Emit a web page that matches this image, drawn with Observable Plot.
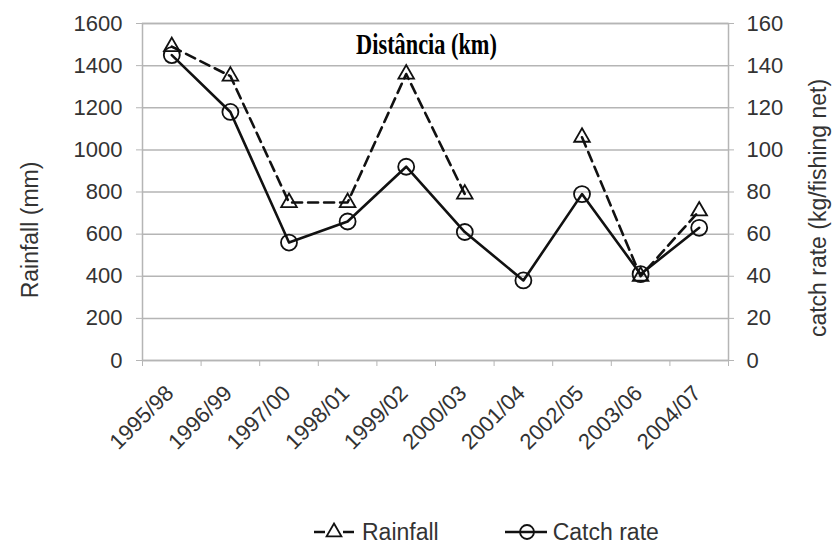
<!DOCTYPE html>
<html><head><meta charset="utf-8">
<script src="https://cdn.jsdelivr.net/npm/d3@7"></script>
<script src="https://cdn.jsdelivr.net/npm/@observablehq/plot@0.6"></script>
<style>
body{margin:0;background:#fff;font-family:"Liberation Sans",Arial,sans-serif;}
#legend{display:flex;align-items:center;height:34px;padding-left:312px;font-size:23px;color:#333;}
#legend .item{display:flex;align-items:center;margin-right:64px;}
#legend svg{margin-right:6px;}
</style></head><body><div id="chart"></div><div id="legend"></div>
<script>
const categories = ["1995/98","1996/99","1997/00","1998/01","1999/02","2000/03","2001/04","2002/05","2003/06","2004/07"];
const rainfall = [1490,1350,750,750,1360,790,null,1060,400,710];
const catchRate = [145,118,56,66,92,61,38,79,41,63];
const leftTicks = [0,200,400,600,800,1000,1200,1400,1600];
const rightTicks = [0,20,40,60,80,100,120,140,160];
const seriesNames = ["Rainfall","Catch rate"];
const titleText = "Distância (km)";
const yLabels = ["Rainfall (mm)","catch rate (kg/fishing net)"];

const k = leftTicks[leftTicks.length-1] / rightTicks[rightTicks.length-1];
const data = categories.map((c,i)=>({i, cat:c, rain: rainfall[i], catchR: catchRate[i]}));
const idx = categories.map((_,i)=>i);
const bounds = d3.range(categories.length+1).map(i=>i-0.5);
const grey = "#b5b5b5";

const plot = Plot.plot({
  width:833, height:515, marginLeft:142, marginRight:105, marginTop:23, marginBottom:155,
  style:{fontFamily:"'Liberation Sans', Arial, sans-serif", fontSize:"22px", background:"#fff", overflow:"visible"},
  x:{type:"linear", domain:[-0.5, categories.length-0.5]},
  y:{domain:[leftTicks[0], leftTicks[leftTicks.length-1]]},
  marks:[
    Plot.gridY(leftTicks,{stroke:grey, strokeOpacity:1, strokeWidth:1.5}),
    Plot.frame({stroke:grey, strokeWidth:1.5}),
    Plot.axisY(leftTicks,{anchor:"left", tickSize:6, tickPadding:14, tickFormat:d=>String(d), stroke:grey, fill:"#333", label:null}),
    Plot.axisY(rightTicks.map(d=>d*k),{anchor:"right", tickSize:5, tickPadding:13, tickFormat:d=>String(d/k), stroke:grey, fill:"#333", label:null}),
    Plot.axisX(bounds,{anchor:"bottom", tickSize:6, tickFormat:()=>"", stroke:grey, label:null}),
    Plot.axisX(idx,{anchor:"bottom", tickSize:0, tickPadding:29, tickRotate:-45, dx:-2, tickFormat:i=>categories[i], fill:"#333", label:null}),
    Plot.line(data,{x:"i", y:"rain", stroke:"#111", strokeWidth:2.6, strokeDasharray:"10,6"}),
    Plot.dot(data,{x:"i", y:"rain", symbol:"triangle", r:5.8, stroke:"#111", strokeWidth:1.8, fill:"none"}),
    Plot.line(data,{x:"i", y:d=>d.catchR*k, stroke:"#111", strokeWidth:2.6}),
    Plot.dot(data,{x:"i", y:d=>d.catchR*k, r:8, stroke:"#111", strokeWidth:1.8, fill:"none"}),
    Plot.text([titleText],{text:d=>d, frameAnchor:"top", textAnchor:"middle", dx:-9, dy:10, fontFamily:"'Liberation Serif', serif", fontWeight:"bold", fontSize:29, fill:"#000"}),
    Plot.text([yLabels[0]],{text:d=>d, frameAnchor:"left", textAnchor:"middle", dx:-112, dy:38, rotate:-90, fontSize:23, fill:"#333"}),
    Plot.text([yLabels[1]],{text:d=>d, frameAnchor:"right", textAnchor:"middle", dx:90, dy:16, rotate:-90, fontSize:23, fill:"#333"})
  ]
});
document.getElementById("chart").appendChild(plot);

// condense the serif title horizontally about its own centre
d3.select(plot).selectAll("text").filter(function(){ return this.textContent === titleText; }).each(function(){
  const b = this.getBBox();
  const cx = b.x + b.width/2, cy = b.y + b.height/2;
  const t = this.getAttribute("transform")||"";
  this.setAttribute("transform", `${t} translate(${cx},${cy}) scale(0.77,1) translate(${-cx},${-cy})`);
});

// legend
const legend = d3.select("#legend");
seriesNames.forEach((name,j)=>{
  const item = legend.append("div").attr("class","item");
  const s = item.append("svg").attr("width",44).attr("height",22);
  if (j===0){
    s.append("line").attr("x1",2).attr("x2",42).attr("y1",11).attr("y2",11).attr("stroke","#111").attr("stroke-width",2.6).attr("stroke-dasharray","11,18");
    s.append("path").attr("d",d3.symbol(d3.symbolTriangle, Math.PI*5.5*5.5)()).attr("transform","translate(22,11)").attr("fill","none").attr("stroke","#111").attr("stroke-width",1.8);
  } else {
    s.append("line").attr("x1",2).attr("x2",46).attr("y1",11).attr("y2",11).attr("stroke","#111").attr("stroke-width",2.6);
    s.append("circle").attr("cx",24).attr("cy",11).attr("r",7).attr("fill","none").attr("stroke","#111").attr("stroke-width",1.8);
  }
  item.append("span").text(name);
});
</script>
</body></html>
